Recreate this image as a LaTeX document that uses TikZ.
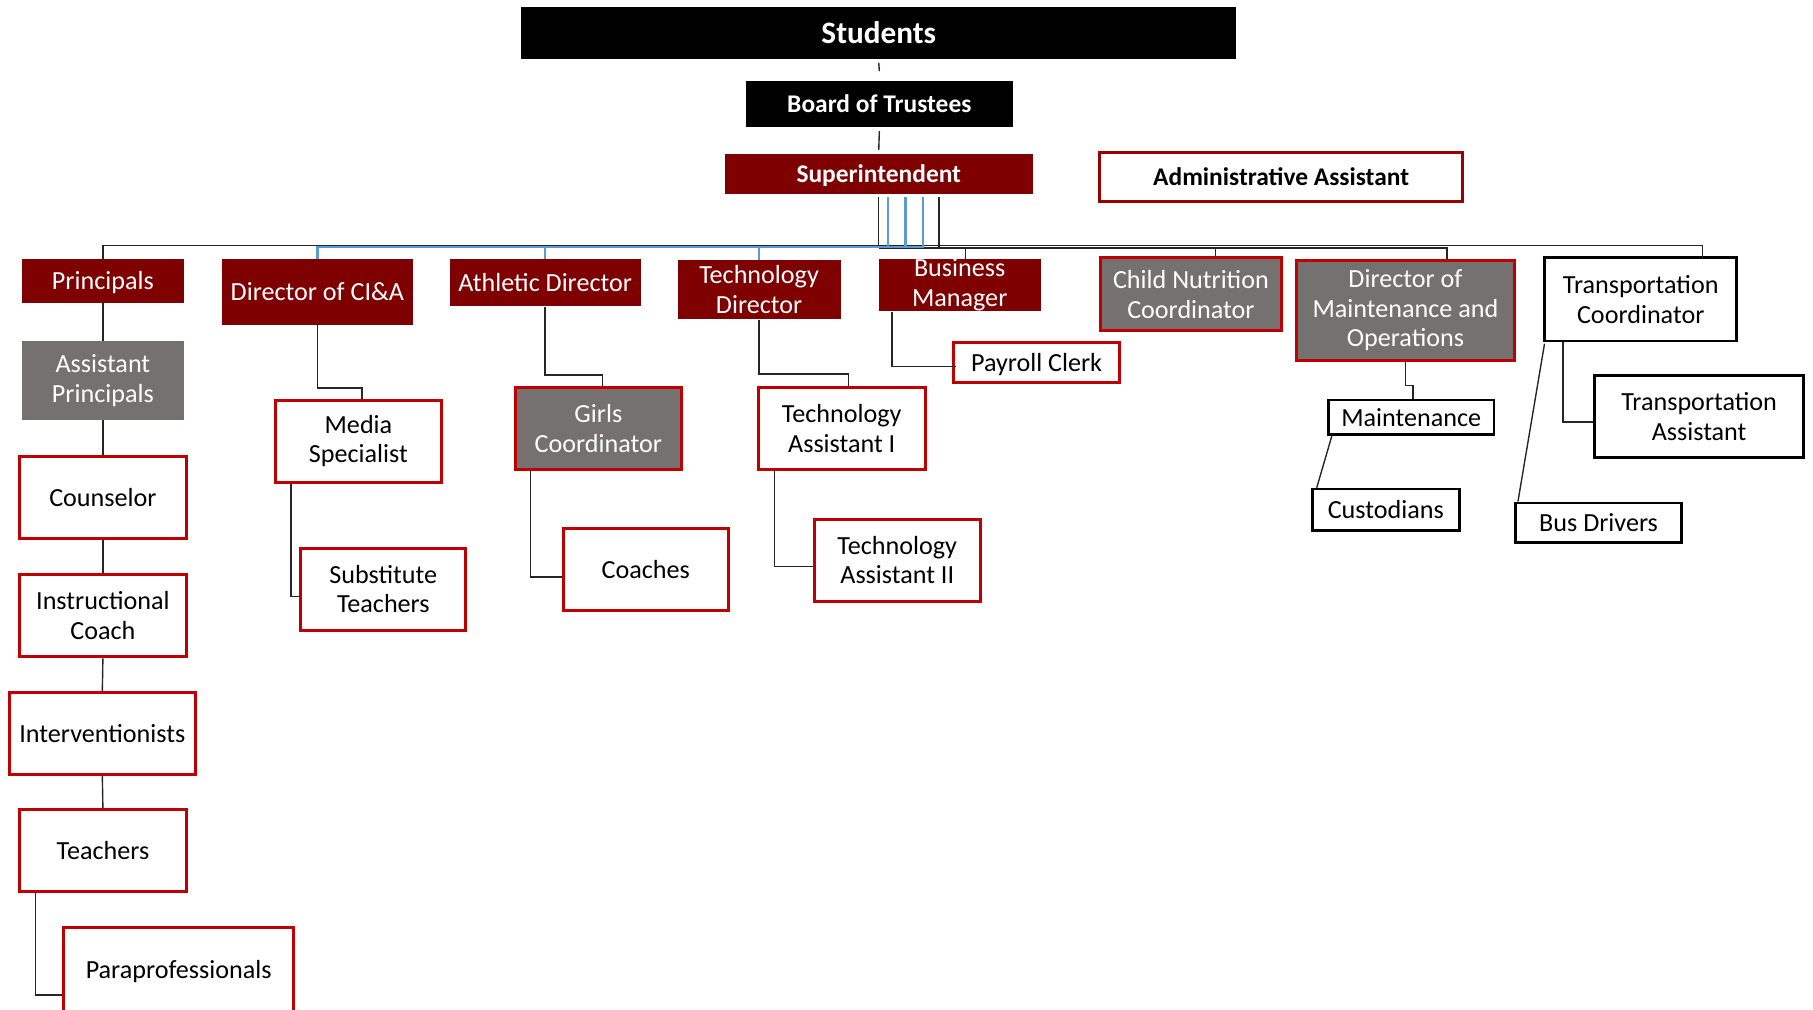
\documentclass[tikz,border=0pt]{standalone}
\usepackage{fontspec}
\setmainfont{Carlito}
\usetikzlibrary{calc}
\definecolor{dred}{HTML}{7F0000}
\definecolor{bred}{HTML}{C00000}
\definecolor{ared}{HTML}{9A0000}
\definecolor{gfill}{HTML}{767171}
\definecolor{lblue}{HTML}{5B9BD5}
\definecolor{lgray}{HTML}{262626}
\newcommand\bx[7]{\node[#2, minimum width={(#5-#3)*0.5pt}, minimum height={(#6-#4)*0.5pt}] (#1) at ({(#3+#5)/2},{(#4+#6)/2}) {#7};}
\begin{document}
\begin{tikzpicture}[x=0.5pt,y=-0.5pt,
  every node/.style={inner sep=0pt, align=center, font=\fontsize{11.3}{12.8}\selectfont},
  bold/.style={font=\fontsize{11}{13}\selectfont\bfseries},
  dn/.style={execute at begin node={\rule{0pt}{0.85em}}},
  bbox/.style={fill=black, text=white},
  dbox/.style={fill=dred, text=white},
  gbox/.style={fill=gfill, text=white},
  grbox/.style={fill=gfill, draw=bred, line width=1.3pt, text=white},
  rbox/.style={fill=white, draw=bred, line width=1.3pt},
  kbox/.style={fill=white, draw=black, line width=1.2pt},
  abox/.style={fill=white, draw=ared, line width=1.3pt},
  con/.style={draw=lgray, line width=0.6pt},
  bcon/.style={draw=lblue, line width=1pt}]
\clip (0,0) rectangle (1568,873);
\fill[white] (0,0) rectangle (1568,873);
% top
\bx{stu}{bbox,font=\fontsize{13.5}{16}\selectfont\bfseries}{451}{6}{1069}{51}{Students}
\bx{bot}{bbox,bold}{645}{70}{876}{110}{Board of Trustees}
\bx{sup}{dbox,bold,dn}{627}{133}{893}{168}{Superintendent}
\bx{adm}{abox,bold}{951}{132}{1265}{174}{Administrative Assistant}
% column 1
\bx{prin}{dbox,dn}{19}{224}{159}{262}{Principals}
\bx{ap}{gbox,dn}{19}{295}{159}{363}{Assistant\\Principals}
\bx{cou}{rbox}{17}{395}{161}{466}{Counselor}
\bx{ic}{rbox}{17}{497}{161}{568}{Instructional\\Coach}
\bx{int}{rbox}{8}{599}{169}{670}{Interventionists}
\bx{tea}{rbox}{17}{700}{161}{771}{Teachers}
\bx{para}{rbox,dn}{55}{802}{254}{875}{Paraprofessionals}
% level 2
\bx{cia}{dbox}{192}{224}{357}{281}{Director of CI\&A}
\bx{ath}{dbox}{389}{224}{554}{265}{Athletic Director}
\bx{td}{dbox}{586}{225}{727}{276}{Technology\\Director}
\bx{bm}{dbox,dn}{760}{225}{900}{268}{Business\\Manager}
\bx{cn}{grbox}{952}{223}{1108}{286}{Child Nutrition\\Coordinator}
\bx{dmo}{grbox,dn}{1121}{225}{1310}{312}{Director of\\Maintenance and\\Operations}
\bx{trc}{kbox}{1336}{223}{1502}{295}{Transportation\\Coordinator}
% level 3
\bx{med}{rbox,dn}{238}{346}{382}{417}{Media\\Specialist}
\bx{sub}{rbox}{260}{474}{403}{545}{Substitute\\Teachers}
\bx{gc}{grbox}{446}{335}{589}{406}{Girls\\Coordinator}
\bx{coa}{rbox}{487}{457}{630}{528}{Coaches}
\bx{ta1}{rbox}{656}{335}{800}{406}{Technology\\Assistant I}
\bx{ta2}{rbox}{704}{449}{848}{520}{Technology\\Assistant II}
\bx{pay}{rbox,dn}{825}{296}{968}{331}{Payroll Clerk}
\bx{mai}{kbox}{1149}{346}{1292}{376}{Maintenance}
\bx{cus}{kbox}{1135}{423}{1262}{459}{Custodians}
\bx{tra}{kbox}{1379}{325}{1560}{396}{Transportation\\Assistant}
\bx{bus}{kbox}{1311}{435}{1454}{469}{Bus Drivers}
% top connectors
\draw[con] ($(stu.south)+(0,3)$) -- ($(bot.north)+(0,-8)$);
\draw[con] ($(bot.south)+(0,3)$) -- ($(sup.north)+(0,-3)$);
% bus
\draw[con] ($(sup.south)+(0,2)$) -- ++(0,42) coordinate (hub);
\draw[con] (hub) -| (prin.north);
\draw[con] (hub) -| ($(trc.north east)+(-31,2)$);
\draw[con] ($(sup.south)+(52,2)$) -- ++(0,44) coordinate (hubb);
\draw[con] ($(sup.south)+(0,46)$) -| ($(dmo.north)+(36,0)$);
\draw[con] ($(sup.south)+(0,46)$) -| ($(cn.north)+(21,0)$);
\draw[con] ($(sup.south)+(0,46)$) -| ($(bm.north)+(5,0)$);
\draw[bcon] ($(sup.south)+(8,2)$) -- ++(0,43) -| (cia.north);
\draw[bcon] ($(sup.south)+(23,2)$) -- ++(0,43) -| (ath.north);
\draw[bcon] ($(sup.south)+(38,2)$) -- ++(0,43) -| (td.north);
% column 1
\draw[con] (prin.south) -- (ap.north);
\draw[con] (ap.south) -- (cou.north);
\draw[con] (cou.south) -- (ic.north);
\draw[con] (ic.south) -- (int.north);
\draw[con] (int.south) -- (tea.north);
\draw[con] ($(tea.south west)+(15,0)$) |- ($(para.west)+(0,22)$);
% others
\draw[con] (cia.south) -- ++(0,54) -| ($(med.north)+(3,0)$);
\draw[con] ($(med.south west)+(15,0)$) |- ($(sub.west)+(0,6.5)$);
\draw[con] (ath.south) -- ++(0,59) -| ($(gc.north)+(3.5,0)$);
\draw[con] ($(gc.south west)+(14,0)$) |- ($(coa.west)+(0,6.5)$);
\draw[con] (td.south) -- ++(0,47) -| ($(ta1.north)+(6,0)$);
\draw[con] ($(ta1.south west)+(15,0)$) |- ($(ta2.west)+(0,5.5)$);
\draw[con] ($(bm.south west)+(12,0)$) |- ($(pay.west)+(3,3.5)$);
\draw[con] (dmo.south) -- ++(0,20) -| ($(mai.north)+(1.5,0)$);
\draw[con] ($(mai.south west)+(4,0)$) -- ($(cus.north west)+(5,0)$);
\draw[con] ($(trc.south west)+(17,0)$) |- ($(tra.west)+(0,4.5)$);
\draw[con] ($(trc.south west)+(1,1)$) -- ($(bus.north west)+(3,0)$);
\end{tikzpicture}
\end{document}
